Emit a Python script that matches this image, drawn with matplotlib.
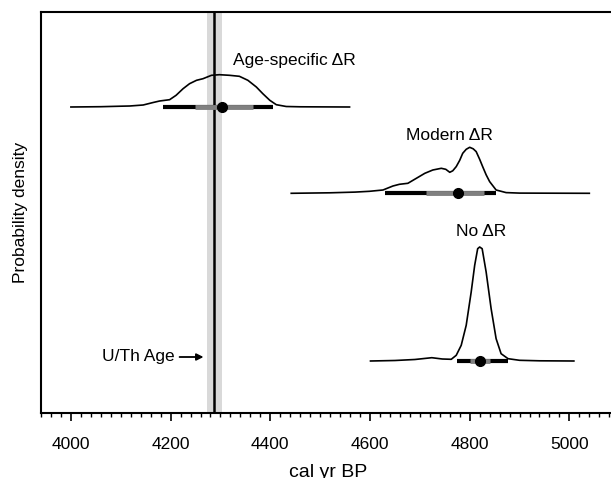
import matplotlib
matplotlib.use("Agg")
import matplotlib.pyplot as plt

plt.rcParams["font.family"] = ["Liberation Sans", "DejaVu Sans"]
plt.rcParams["font.size"] = 12.5

# density curves (year, relative density)
age_years = [4000, 4060, 4100, 4118, 4145, 4165, 4178, 4198, 4211, 4225, 4238,
             4252, 4265, 4282, 4298, 4318, 4338, 4355, 4372, 4385, 4399, 4412,
             4432, 4460, 4559]
age_dens = [0, 0.3, 0.8, 1, 2, 4.5, 6, 7.3, 11.7, 18.3, 23.3, 26.7, 28.3, 31.7,
            32.3, 31.7, 30.7, 26.7, 20, 13.3, 6.7, 2.3, 0.5, 0.2, 0]

mod_years = [4442, 4520, 4570, 4599, 4626, 4646, 4659, 4676, 4693, 4710, 4726,
             4743, 4752, 4760, 4766, 4773, 4780, 4786, 4793, 4800, 4807, 4813,
             4820, 4826, 4833, 4840, 4853, 4873, 4900, 5040]
mod_dens = [0, 0.5, 1.2, 2, 3.3, 7.3, 9, 10, 15, 20, 23.3, 25, 24, 21, 22.5,
            26.7, 33, 40, 44, 46, 44.5, 41.7, 34, 26.7, 18.5, 11.7, 3.3, 0.7,
            0.2, 0]

no_years = [4601, 4650, 4690, 4724, 4745, 4763, 4773, 4783, 4793, 4803, 4810,
            4816, 4820, 4825, 4833, 4843, 4853, 4863, 4877, 4900, 4940, 5009]
no_dens = [0, 0.5, 1.5, 3.3, 2, 1.7, 5.7, 15.7, 35.7, 69, 95.7, 112.3, 114,
           112.3, 89, 52.3, 22.3, 7.3, 2.3, 0.7, 0.2, 0]

# 95% range, 68% range, median
labels = ["Age-specific ΔR", "Modern ΔR", "No ΔR"]
range95 = [(4184, 4406), (4630, 4853), (4774, 4877)]
range68 = [(4248, 4366), (4713, 4829), (4800, 4840)]
medians = [4304, 4776, 4821]

uth_age = 4288
uth_err = 15

offsets = [306, 219.7, 52]
label_pos = [(4449, 352), (4760, 278), (4822, 182)]

fig = plt.figure(figsize=(6.11, 4.78), dpi=100)
ax = fig.add_axes([41 / 611, 65 / 478, 574 / 611, 401 / 478])

ax.axvspan(uth_age - uth_err, uth_age + uth_err, color="#d9d9d9", lw=0, zorder=0)
ax.axvline(uth_age, color="black", lw=1.8, zorder=1)

curves = [(age_years, age_dens), (mod_years, mod_dens), (no_years, no_dens)]
for (yrs, dens), off, r95, r68, med, lab, lp in zip(
        curves, offsets, range95, range68, medians, labels, label_pos):
    ax.plot(yrs, [d + off for d in dens], color="black", lw=1.2, zorder=2,
            solid_joinstyle="round")
    ax.plot(r95, [off, off], color="black", lw=3, solid_capstyle="butt", zorder=3)
    ax.plot(r68, [off, off], color="#808080", lw=3.5, solid_capstyle="butt", zorder=4)
    ax.plot(med, off, "o", color="black", ms=7, zorder=5)
    ax.text(lp[0], lp[1], lab, ha="center", va="center")

ax.annotate("", xy=(4266, 56), xytext=(4218, 56),
            arrowprops=dict(arrowstyle="-|>", color="black", lw=1.3,
                            mutation_scale=10, shrinkA=0, shrinkB=0))
ax.text(4208, 56, "U/Th Age", ha="right", va="center")

ax.set_xlim(3940, 5091.5)
ax.set_ylim(0, 401)
ax.set_xticks([4000, 4200, 4400, 4600, 4800, 5000])
ax.set_xticks(range(3940, 5092, 20), minor=True)
ax.tick_params(axis="x", which="major", length=6, width=1.2, pad=11)
ax.tick_params(axis="x", which="minor", length=3, width=1.0)
ax.set_yticks([])
for s in ["left", "bottom", "top"]:
    ax.spines[s].set_linewidth(1.5)
ax.spines["right"].set_visible(False)

ax.set_xlabel("cal yr BP", fontsize=14, labelpad=9)
ax.set_ylabel("Probability density", labelpad=9)

fig.savefig("out.png", dpi=100)
